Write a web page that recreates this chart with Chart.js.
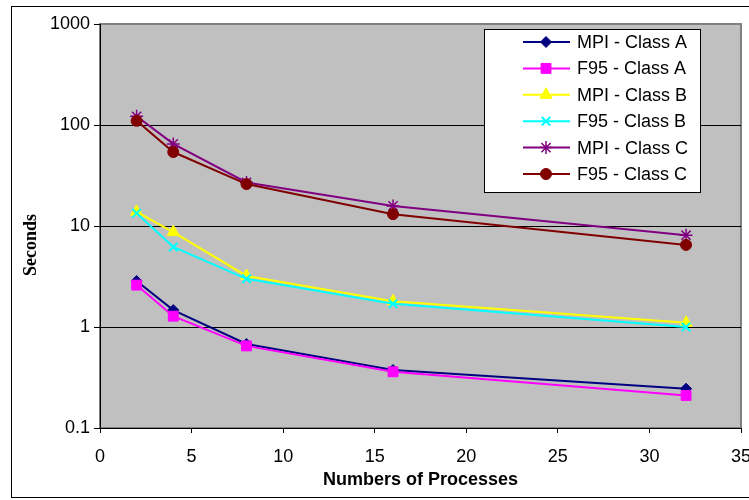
<!DOCTYPE html>
<html>
<head>
<meta charset="utf-8">
<script src="https://cdn.jsdelivr.net/npm/chart.js@4/dist/chart.umd.min.js"></script>
<style>
html,body{margin:0;padding:0;background:#fff;}
#wrap{width:749px;height:500px;position:relative;}
</style>
</head>
<body>
<div id="wrap"><canvas id="c" width="749" height="500"></canvas></div>
<script>
// ---- data ----
const processes = [2, 4, 8, 16, 32];
const mpiClassA = [2.85, 1.47, 0.68, 0.375, 0.245];
const f95ClassA = [2.6, 1.28, 0.65, 0.36, 0.21];
const mpiClassB = [13.8, 8.7, 3.2, 1.8, 1.1];
const f95ClassB = [13.4, 6.2, 3.0, 1.7, 1.0];
const mpiClassC = [122, 65, 27, 15.8, 8.1];
const f95ClassC = [110, 54, 26, 13.1, 6.5];
const seriesNames = ['MPI - Class A', 'F95 - Class A', 'MPI - Class B', 'F95 - Class B', 'MPI - Class C', 'F95 - Class C'];
const yTickValues = [0.1, 1, 10, 100, 1000];
const yTickLabels = ['0.1', '1', '10', '100', '1000'];
const xTickValues = [0, 5, 10, 15, 20, 25, 30, 35];
const yTitle = 'Seconds';
const xTitle = 'Numbers of Processes';

// ---- styles ----
const seriesValues = [mpiClassA, f95ClassA, mpiClassB, f95ClassB, mpiClassC, f95ClassC];
const colors = ['#000080', '#FF00FF', '#FFFF00', '#00FFFF', '#800080', '#800000'];
const styles = ['rectRot', 'rect', 'triangle', 'crossRot', 'star', 'circle'];
const radii = [5.5, 7, 7, 6, 6.5, 5.5];
const borderW = [1, 1, 1, 2, 1.5, 1];

const FONT = "'Liberation Sans', Arial, sans-serif";

const datasets = seriesValues.map((vals, i) => ({
  label: seriesNames[i],
  data: processes.map((p, j) => ({x: p, y: vals[j]})),
  borderColor: colors[i],
  backgroundColor: colors[i],
  borderWidth: 2,
  pointStyle: styles[i],
  pointRadius: radii[i],
  pointBorderWidth: borderW[i],
  pointBackgroundColor: colors[i],
  pointBorderColor: colors[i],
  tension: 0,
  fill: false,
  order: seriesValues.length - i
}));

const bgPlugin = {
  id: 'bg',
  beforeDraw(chart) {
    const ctx = chart.ctx, a = chart.chartArea;
    ctx.save();
    ctx.fillStyle = '#ffffff';
    ctx.fillRect(0, 0, chart.width, chart.height);
    // outer frame
    ctx.strokeStyle = '#000';
    ctx.lineWidth = 1;
    ctx.strokeRect(11.5, 6.5, 760, 491);
    ctx.fillStyle = '#C0C0C0';
    ctx.fillRect(a.left, a.top, a.right - a.left, a.bottom - a.top);
    ctx.strokeStyle = '#808080';
    ctx.lineWidth = 2;
    ctx.strokeRect(a.left, a.top, a.right - a.left, a.bottom - a.top);
    // y axis title
    ctx.translate(31, 245);
    ctx.rotate(-Math.PI / 2);
    ctx.fillStyle = '#000';
    ctx.font = "bold 18px 'Liberation Serif', 'Times New Roman', serif";
    ctx.textAlign = 'center';
    ctx.textBaseline = 'middle';
    ctx.fillText(yTitle, 0, 0);
    ctx.restore();
  }
};

const legendPlugin = {
  id: 'boxLegend',
  afterDraw(chart) {
    const ctx = chart.ctx;
    const bx = 484, by = 29, bw = 216, bh = 163;
    ctx.save();
    ctx.fillStyle = '#fff';
    ctx.fillRect(bx, by, bw, bh);
    ctx.strokeStyle = '#000';
    ctx.lineWidth = 1;
    ctx.strokeRect(bx + 0.5, by + 0.5, bw, bh);
    chart.data.datasets.forEach((ds, i) => {
      const y = 42 + i * 26.4;
      ctx.strokeStyle = ds.borderColor;
      ctx.lineWidth = 2;
      ctx.beginPath();
      ctx.moveTo(523, y);
      ctx.lineTo(570, y);
      ctx.stroke();
      ctx.fillStyle = ds.pointBackgroundColor;
      ctx.strokeStyle = ds.pointBorderColor;
      ctx.lineWidth = ds.pointBorderWidth;
      Chart.helpers.drawPoint(ctx, {pointStyle: ds.pointStyle, radius: ds.pointRadius, rotation: 0, borderWidth: ds.pointBorderWidth}, 546, y);
      ctx.fillStyle = '#000';
      ctx.font = '18px ' + FONT;
      ctx.textBaseline = 'middle';
      ctx.textAlign = 'left';
      ctx.fillText(ds.label, 577, y + 1);
    });
    ctx.restore();
  }
};

new Chart(document.getElementById('c'), {
  type: 'line',
  data: {datasets},
  plugins: [bgPlugin, legendPlugin],
  options: {
    responsive: false,
    devicePixelRatio: 1,
    animation: false,
    layout: {padding: {left: 0, right: 6, top: 24, bottom: 0}},
    plugins: {legend: {display: false}, tooltip: {enabled: false}},
    scales: {
      x: {
        type: 'linear',
        min: 0, max: 35,
        afterBuildTicks(scale) { scale.ticks = xTickValues.map(v => ({value: v})); },
        afterFit(scale) { scale.height = 72; scale.paddingLeft = 0; scale.paddingRight = 0; },
        ticks: {color: '#000', font: {family: FONT, size: 18}, padding: 13, maxRotation: 0, autoSkip: false},
        grid: {drawOnChartArea: false, drawTicks: true, tickLength: 5, color: '#000', tickColor: '#000'},
        border: {display: true, color: '#000', width: 1},
        title: {display: true, text: xTitle, color: '#000', font: {family: FONT, size: 18, weight: 'bold'}, padding: {top: 9, bottom: 9}}
      },
      y: {
        type: 'logarithmic',
        min: 0.1, max: 1000,
        afterBuildTicks(scale) { scale.ticks = yTickValues.map(v => ({value: v})); },
        afterFit(scale) { scale.width = 100; scale.paddingTop = 0; scale.paddingBottom = 0; },
        ticks: {
          color: '#000', font: {family: FONT, size: 18}, padding: 4, autoSkip: false,
          callback: (v) => { const k = yTickValues.indexOf(v); return k >= 0 ? yTickLabels[k] : ''; }
        },
        grid: {
          drawOnChartArea: true, drawTicks: true, tickLength: 6,
          color: (c) => (c.tick && (c.tick.value === 1000 || c.tick.value === 0.1)) ? 'rgba(0,0,0,0)' : '#000',
          tickColor: '#000'
        },
        border: {display: true, color: '#000', width: 1},
        title: {display: false}
      }
    }
  }
});
</script>
</body>
</html>
